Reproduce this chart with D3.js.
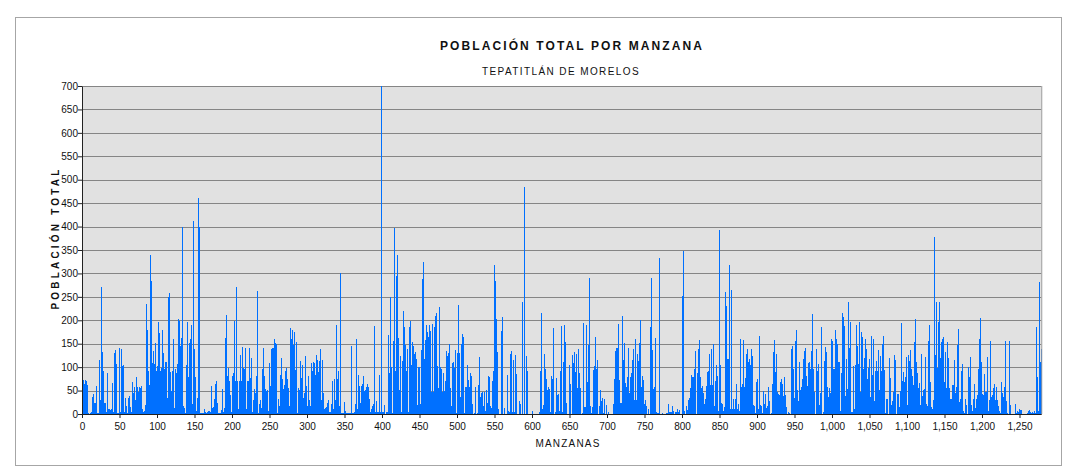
<!DOCTYPE html>
<html><head><meta charset="utf-8">
<script src="https://cdn.jsdelivr.net/npm/d3@7"></script>
<style>
html,body{margin:0;padding:0;background:#fff;}
svg{display:block;font-family:"Liberation Sans",Arial,sans-serif;}
</style></head>
<body>
<svg id="chart" width="1078" height="474"></svg>
<script>
// Población total por manzana (values estimated from the reference chart)
const manzanas_0000_0127 = [
440,72,65,65, 72,70,62,3, 3,0,2,2, 4,37,42,23, 23,23,60,3, 3,2,116,30, 30,270,133,91, 91,23,23,5,
5,87,10,10, 10,8,10,10, 67,5,130,130, 136,106,3,2, 2,140,4,4, 138,102,104,5, 5,34,18,3, 3,34,39,15,
15,5,68,45, 45,57,30,30, 79,58,47,47, 57,55,60,10, 10,5,6,6, 20,234,180,92, 92,61,340,283, 283,109,134,106,
106,151,92,92, 102,197,172,91, 91,98,179,131, 131,97,110,110, 110,35,250,250, 259,90,50,50, 91,161,13,13, 95,87,107,107];
const manzanas_0128_0255 = [
203,198,145,145, 163,400,17,12, 12,3,104,104, 196,78,152,152, 159,191,21,21, 412,138,78,6, 6,35,461,400, 400,3,2,2,
3,2,10,5, 5,3,5,5, 6,6,5,5, 59,12,14,14, 33,63,70,23, 23,2,3,2, 2,8,54,5, 5,13,163,163,
212,82,99,70, 70,40,4,4, 81,87,199,70, 70,270,70,10, 10,70,125,70, 70,143,99,95, 95,140,10,10, 70,70,140,76,
76,119,4,4, 30,54,44,44, 81,263,3,3, 21,30,13,13, 95,140,81,54, 54,50,51,6, 6,108,60,60, 138,141,140,140];
const manzanas_0256_0383 = [
160,152,150,3, 3,33,17,17, 84,120,74,54, 54,61,92,92, 99,75,55,17, 17,184,159,159, 180,148,175,93, 93,154,3,3,
56,52,114,77, 77,104,35,35, 45,123,60,17, 17,82,29,17, 17,109,91,91, 111,109,84,84, 125,116,89,89, 114,138,30,30,
116,44,10,10, 13,15,23,23, 30,4,4,4, 21,70,10,10, 74,30,189,74, 74,91,18,18, 300,2,2,2, 2,26,6,2,
2,2,2,2, 2,2,146,2, 2,2,4,4, 21,161,10,10, 84,60,23,23, 60,63,81,49, 49,52,58,58, 63,58,33,5];
const manzanas_0384_0511 = [
5,10,17,17, 21,188,5,5, 28,5,5,5, 83,5,700,5, 5,5,19,1, 1,5,5,5, 168,87,250,100, 100,3,156,156,
397,92,294,294, 339,163,51,51, 124,5,113,113, 220,186,147,92, 92,139,5,5, 186,198,105,105, 154,146,127,127, 133,118,19,19,
100,101,21,21, 137,288,324,118, 118,158,191,174, 174,165,190,178, 178,48,193,48, 48,186,210,210, 216,103,55,55, 228,100,95,48,
48,88,50,50, 70,134,124,124, 131,149,55,17, 17,109,112,99, 99,137,3,3, 131,232,131,37, 37,149,170,165, 165,3,58,58];
const manzanas_0512_0639 = [
58,105,73,58, 58,87,81,21, 21,1,3,3, 57,1,3,3, 62,122,36,36, 44,48,18,18, 48,7,51,23, 23,81,78,17,
17,12,71,71, 92,318,284,284, 202,133,11,0, 0,1,177,177, 208,1,13,1, 1,1,83,7, 7,4,129,129, 134,5,115,4,
4,126,85,1, 1,1,28,21, 21,1,240,1, 1,485,1,1, 124,92,0,0, 0,0,0,0, 6,0,0,0, 0,0,0,0,
0,4,92,92, 216,10,19,19, 129,95,74,51, 51,58,53,5, 5,81,75,75, 184,1,4,4, 76,41,42,7, 7,92,188,5];
const manzanas_0640_0767 = [
5,112,190,154, 154,23,1,1, 1,105,64,1, 1,126,108,108, 132,90,129,55, 55,139,88,55, 55,1,3,3, 195,16,14,14,
190,69,147,147, 291,18,3,3, 16,94,103,103, 165,97,115,1, 1,18,51,28, 28,35,3,3, 31,1,19,1, 1,5,1,0,
0,0,0,0, 21,75,135,135, 141,141,193,73, 73,23,24,24, 209,115,152,67, 67,58,80,80, 140,44,78,78, 87,115,139,30,
30,161,30,30, 128,114,152,152, 200,58,81,73, 73,21,30,18, 18,0,11,0, 0,186,291,137, 137,53,58,58, 162,4,3,3];
const manzanas_0768_0895 = [
3,333,1,0, 0,2,0,0, 1,0,3,3, 3,21,5,5, 5,4,18,7, 7,0,4,4, 5,10,5,5, 8,1,0,0,
252,348,7,1, 1,18,8,8, 30,35,55,55, 83,78,78,78, 97,135,0,0, 87,139,158,78, 78,55,60,44, 44,21,31,31,
60,90,92,92, 129,62,139,62, 62,149,17,17, 71,105,81,7, 7,392,105,23, 23,21,7,7, 16,260,231,117, 117,117,318,10,
10,264,10,10, 33,10,33,33, 64,10,21,7, 7,161,57,57, 65,158,57,57, 76,128,138,112, 112,118,104,104, 138,124,19,18];
const manzanas_0896_1023 = [
18,3,68,68, 74,10,166,19, 19,17,3,3, 50,21,43,12, 12,17,57,28, 28,1,3,3, 65,132,158,89, 89,129,46,43,
43,41,68,68, 75,63,38,38, 78,41,14,1, 1,5,3,1, 1,139,145,96, 96,35,156,156, 179,51,28,28, 112,51,58,58,
75,117,134,134, 140,81,60,60, 108,112,97,97, 134,213,97,46, 46,1,138,92, 92,107,19,19, 44,185,1,1, 5,114,142,132,
132,58,37,37, 56,44,160,156, 156,97,97,97, 179,161,149,112, 112,112,6,6, 87,216,208,188, 188,38,117,53, 53,238,140,140];
const manzanas_1024_1151 = [
197,5,5,5, 102,10,105,105, 190,145,107,107, 197,46,174,164, 164,95,119,119, 161,138,75,75, 99,117,37,37, 166,83,160,28,
28,92,114,92, 92,137,51,51, 124,92,149,149, 166,94,3,3, 33,33,1,1, 119,76,19,19, 28,48,126,115, 115,1,43,43,
43,14,50,50, 195,71,89,68, 68,78,122,19, 19,126,114,114, 137,97,81,62, 62,154,203,110, 110,88,55,55, 67,19,128,38,
38,51,53,53, 121,21,17,17, 156,191,69,16, 16,10,30,30, 377,126,238,99, 99,197,238,119, 119,154,161,161, 165,69,132,55];
const manzanas_1152_1278 = [
55,154,119,55, 55,33,33,33, 62,62,115,44, 44,58,147,147, 181,26,33,33, 92,107,7,3, 3,33,19,1, 1,101,80,80,
122,19,7,7, 33,63,12,12, 31,41,95,95, 161,204,112,112, 43,41,85,46, 46,46,122,7, 7,30,156,36, 36,41,55,55,
63,30,58,30, 30,17,7,3, 3,68,44,37, 37,58,156,28, 28,3,1,1, 156,19,0,0, 0,0,0,0, 21,3,7,5,
5,10,8,8, 8,0,0,0, 0,0,0,0, 3,6,8,5, 5,3,5,3, 3,7,3,3, 185,80,7,7, 282,110,139];

const poblacion = [].concat(manzanas_0000_0127, manzanas_0128_0255, manzanas_0256_0383,
  manzanas_0384_0511, manzanas_0512_0639, manzanas_0640_0767, manzanas_0768_0895,
  manzanas_0896_1023, manzanas_1024_1151, manzanas_1152_1278);

const xTicks = d3.range(0, 1251, 50);
const yTicks = d3.range(0, 701, 50);
const titulo = "POBLACIÓN TOTAL POR MANZANA";
const subtitulo = "TEPATITLÁN DE MORELOS";
const ejeX = "MANZANAS";
const ejeY = "POBLACIÓN TOTAL";

const svg = d3.select("#chart");
const L = 82, R = 82 + poblacion.length * 0.75, T = 86, B = 414;

// outer frame
svg.append("rect").attr("x", 15.5).attr("y", 17.5).attr("width", 1046).attr("height", 448)
  .attr("fill", "#fff").attr("stroke", "#a6a6a6").attr("stroke-width", 1);

const x = d3.scaleLinear().domain([0, poblacion.length]).range([L, R]);
const y = d3.scaleLinear().domain([0, 700]).range([B, T]);

// plot background
svg.append("rect").attr("x", L).attr("y", T).attr("width", R - L).attr("height", B - T).attr("fill", "#e1e1e1");

// grid lines
svg.append("g").selectAll("line").data(yTicks.filter(d => d > 0)).join("line")
  .attr("x1", L).attr("x2", R).attr("y1", d => Math.round(y(d)) + 0.5).attr("y2", d => Math.round(y(d)) + 0.5)
  .attr("stroke", "#858585").attr("stroke-width", 1.2);

// bars
const bw = x(1) - x(0);
svg.append("g").attr("shape-rendering", "crispEdges").selectAll("rect").data(poblacion).join("rect")
  .attr("x", (d, i) => x(i)).attr("y", d => y(d))
  .attr("width", Math.max(1, bw)).attr("height", d => B - y(d))
  .attr("fill", "#0070ff");

// right border
svg.append("line").attr("x1", R + 0.5).attr("x2", R + 0.5).attr("y1", T).attr("y2", B)
  .attr("stroke", "#999").attr("stroke-width", 1);

// axes
const xAxis = d3.axisBottom(x).tickValues(xTicks).tickFormat(d3.format(",")).tickSize(4).tickSizeOuter(0);
const gx = svg.append("g").attr("transform", `translate(0,${B})`).call(xAxis);
gx.select(".domain").attr("stroke", "#222");
gx.selectAll(".tick line").attr("stroke", "#222");
gx.selectAll("text").attr("font-size", 10).attr("fill", "#111").attr("dy", "0.9em")
  .attr("font-family", "'Liberation Sans', Arial, sans-serif");

const yAxis = d3.axisLeft(y).tickValues(yTicks).tickSize(4).tickSizeOuter(0);
const gy = svg.append("g").attr("transform", `translate(${L},0)`).call(yAxis);
gy.select(".domain").attr("stroke", "#222");
gy.selectAll(".tick line").attr("stroke", "#222");
gy.selectAll("text").attr("font-size", 10).attr("fill", "#111").attr("x", -4)
  .attr("font-family", "'Liberation Sans', Arial, sans-serif");

// titles
svg.append("text").attr("x", 572).attr("y", 50).attr("text-anchor", "middle")
  .attr("font-size", 12).attr("font-weight", "bold").attr("letter-spacing", 2.1).attr("fill", "#111")
  .text(titulo);
svg.append("text").attr("x", 561).attr("y", 75).attr("text-anchor", "middle")
  .attr("font-size", 10).attr("letter-spacing", 1.4).attr("fill", "#111")
  .text(subtitulo);
svg.append("text").attr("x", 568).attr("y", 447).attr("text-anchor", "middle")
  .attr("font-size", 10).attr("letter-spacing", 1.2).attr("fill", "#111")
  .text(ejeX);
svg.append("text").attr("transform", "translate(59,238) rotate(-90)").attr("text-anchor", "middle")
  .attr("font-size", 10).attr("font-weight", "bold").attr("letter-spacing", 3.2).attr("fill", "#111")
  .text(ejeY);
</script>
</body></html>
